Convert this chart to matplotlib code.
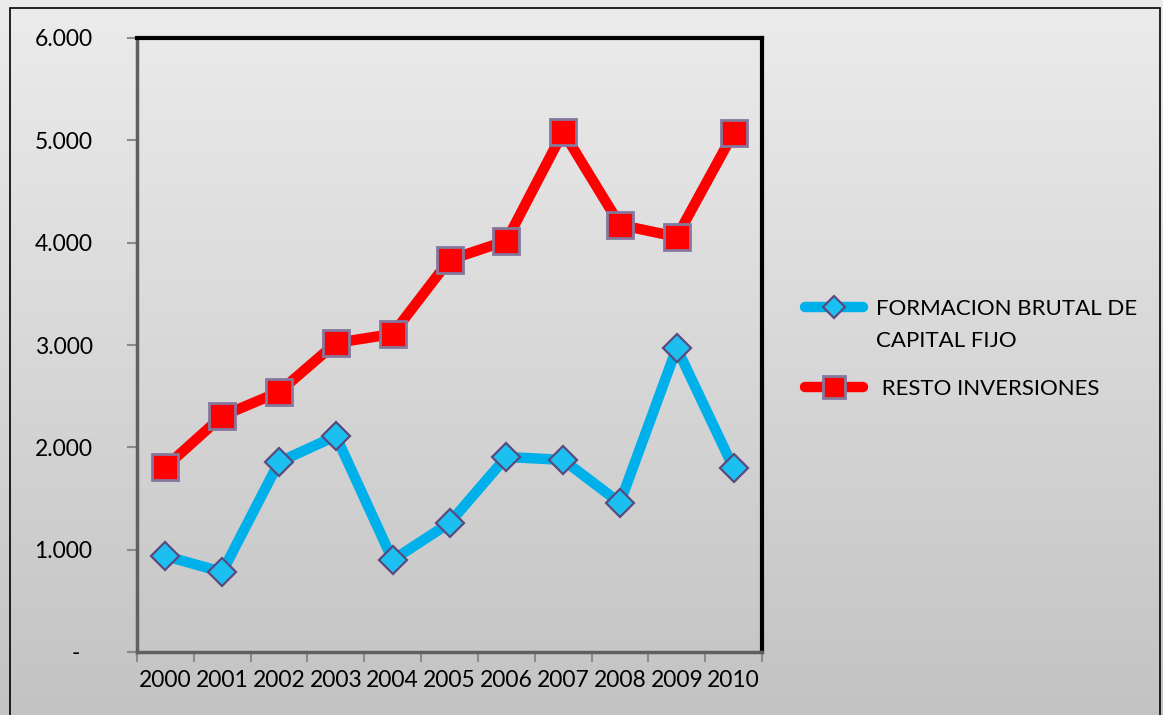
import numpy as np
import matplotlib
matplotlib.use("Agg")
import matplotlib.pyplot as plt
from matplotlib.ticker import FuncFormatter, FixedLocator
from matplotlib.patches import Rectangle
from matplotlib.lines import Line2D

plt.rcParams['font.family'] = ['Lato', 'DejaVu Sans']

years = ["2000", "2001", "2002", "2003", "2004", "2005", "2006", "2007", "2008", "2009", "2010"]
formacion = [938, 782, 1857, 2111, 899, 1261, 1906, 1877, 1456, 2971, 1798]
resto = [1808, 2307, 2541, 3020, 3108, 3832, 4018, 5083, 4174, 4057, 5073]
label_formacion_1 = "FORMACION BRUTAL DE"
label_formacion_2 = "CAPITAL FIJO"
label_resto = " RESTO INVERSIONES"
y_ticks = [0, 1000, 2000, 3000, 4000, 5000, 6000]

W, H = 1163, 715
fig = plt.figure(figsize=(W / 100, H / 100), dpi=100)

# background gradient
bg = fig.add_axes([0, 0, 1, 1], zorder=-10)
grad = np.linspace(0, 1, 256).reshape(-1, 1)
top_c = np.array([0.925, 0.925, 0.925])
bot_c = np.array([0.765, 0.765, 0.765])
img = top_c[None, None, :] * (1 - grad[:, :, None]) + bot_c[None, None, :] * grad[:, :, None]
bg.imshow(img, aspect='auto', extent=[0, 1, 0, 1])
bg.set_axis_off()

# outer border
fig.patches.append(Rectangle((10 / W, -0.01), (1160 - 10) / W, (715 - 8) / H + 0.01,
                             transform=fig.transFigure, fill=False, edgecolor='black',
                             linewidth=1.2, zorder=5))

ax = fig.add_axes([137 / W, 63 / H, (762 - 137) / W, (652 - 38) / H])
ax.patch.set_alpha(0)

x = np.arange(len(years))
l1, = ax.plot(x, formacion, color='#00b0ea', linewidth=7.5, solid_capstyle='round',
              marker='D', markersize=14.5, markerfacecolor='#1cc0f0', markeredgecolor='#5a4a7e',
              markeredgewidth=1.6, zorder=3)
l2, = ax.plot(x, resto, color='#ff0000', linewidth=7.5, solid_capstyle='round',
              marker='s', markersize=19, markerfacecolor='#ff0000', markeredgecolor='#85789e',
              markeredgewidth=2.0, zorder=4)

ax.set_xlim(-0.5, len(years) - 0.5)
ax.set_ylim(0, 6000)

ax.xaxis.set_major_locator(FixedLocator(np.arange(-0.5, len(years), 1.0)))
ax.xaxis.set_major_formatter(FuncFormatter(lambda v, p: ""))
ax.xaxis.set_minor_locator(FixedLocator(x))
ax.set_xticklabels(years, minor=True)
ax.tick_params(axis='x', which='major', length=7, width=1.5, color='#8a8a8a', direction='out')
ax.tick_params(axis='x', which='minor', length=0, pad=13, labelsize=16.5)

ax.set_yticks(y_ticks)
ax.yaxis.set_major_formatter(FuncFormatter(
    lambda v, p: "-  " if v == 0 else f"{v:,.0f}".replace(",", ".")))
ax.tick_params(axis='y', length=7, width=1.5, color='#8a8a8a', direction='out', pad=25, labelsize=16.5)

for s in ['top', 'right']:
    ax.spines[s].set_color('black')
    ax.spines[s].set_linewidth(3)
for s in ['left', 'bottom']:
    ax.spines[s].set_color('#606060')
    ax.spines[s].set_linewidth(2.5)

blank = Line2D([], [], color='none')
leg_kw = dict(loc='upper left', frameon=False, fontsize=16, handlelength=2.6,
              handletextpad=0.6, labelspacing=0.55, markerscale=0.8)
leg1 = fig.legend(handles=[l1, blank], labels=[label_formacion_1, label_formacion_2],
                  bbox_to_anchor=(785 / W, 1 - 279 / H), **leg_kw)
leg2 = fig.legend(handles=[l2], labels=[label_resto],
                  bbox_to_anchor=(785 / W, 1 - 359 / H), **leg_kw)

fig.savefig("out.png", dpi=100)
